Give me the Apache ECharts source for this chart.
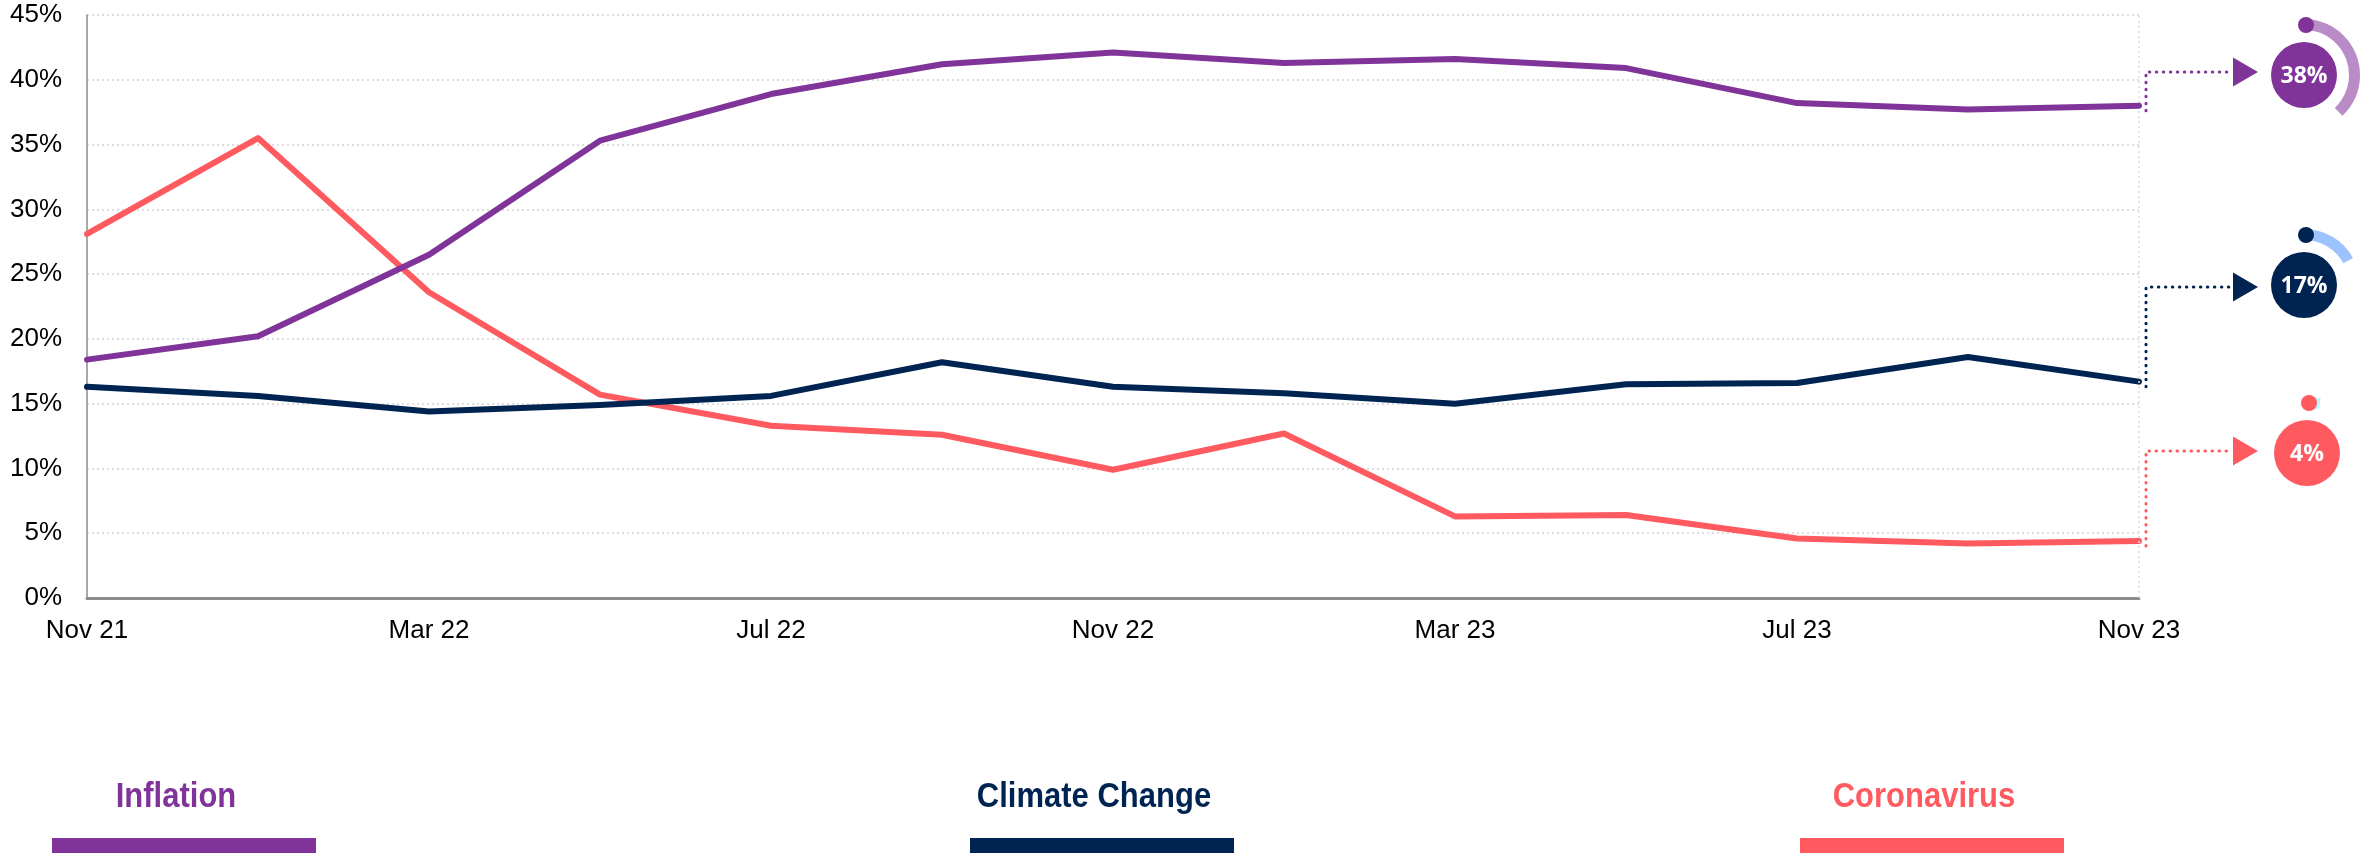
<!DOCTYPE html>
<html>
<head>
<meta charset="utf-8">
<style>
html,body{margin:0;padding:0;background:#fff;}
#chart{width:2366px;height:859px;}
</style>
<script src="https://cdn.jsdelivr.net/npm/echarts@6/dist/echarts.min.js"></script>
</head>
<body>
<div id="chart"></div>
<script>
// ---- data ----
const categories = ['Nov 21','Jan 22','Mar 22','May 22','Jul 22','Sep 22','Nov 22','Jan 23','Mar 23','May 23','Jul 23','Sep 23','Nov 23'];
const inflation = [18.4,20.2,26.5,35.3,38.9,41.2,42.1,41.3,41.6,40.9,38.2,37.7,38.0];
const climateChange = [16.3,15.6,14.4,14.9,15.6,18.2,16.3,15.8,15.0,16.5,16.6,18.6,16.7];
const coronavirus = [28.1,35.5,23.6,15.7,13.3,12.6,9.9,12.7,6.3,6.4,4.6,4.2,4.4];
const seriesNames = ['Inflation','Climate Change','Coronavirus'];
const yMin = 0, yMax = 45, yInterval = 5;

// ---- styles ----
const colors = ['#803399','#002452','#FF5A5F'];
const ringColors = ['#BA8CC7','#9DC3FF','#B3F7FF'];
const badgeCenters = [[2304,75],[2304,285],[2307,453]];
const arrowY = [72,287,451];
const legendCenters = [184,1102,1932];
const FONT = "'Liberation Sans', Arial, sans-serif";

const chart = echarts.init(document.getElementById('chart'), null, {renderer:'canvas'});
const allData = [inflation, climateChange, coronavirus];

const lineSeries = allData.map((d,i)=>({
  name: seriesNames[i], type:'line', data:d, symbol:'none', smooth:false,
  lineStyle:{color:colors[i], width:6, cap:'round', join:'round'},
  itemStyle:{color:colors[i]}, z: 5 - i,
  silent:true,
  markLine: i===0 ? {silent:true, symbol:'none', label:{show:false},
     lineStyle:{color:'#dcdcdc', type:[2,3], width:1.5},
     data:[{xAxis: categories[categories.length-1]}]} : undefined
}));

const ringSeries = allData.map((d,i)=>{
  const v = Math.round(d[d.length-1]);
  return {
    type:'pie', silent:true, center:badgeCenters[i], radius:[45,56],
    startAngle:90, clockwise:true, label:{show:false}, labelLine:{show:false},
    emphasis:{disabled:true}, animation:false,
    data:[{value:v, itemStyle:{color:ringColors[i]}},{value:100-v, itemStyle:{color:'rgba(0,0,0,0)'}}]
  };
});

chart.setOption({
  animation:false,
  backgroundColor:'#fff',
  grid:{left:87, right:227, top:15, bottom:261, containLabel:false},
  xAxis:{
    type:'category', data:categories, boundaryGap:false,
    axisLine:{lineStyle:{color:'#8c8c8c', width:3}},
    axisTick:{show:false},
    axisLabel:{interval:1, color:'#000', fontSize:26, fontFamily:FONT, margin:20},
    splitLine:{show:false}
  },
  yAxis:{
    type:'value', min:yMin, max:yMax, interval:yInterval,
    axisLine:{show:true, lineStyle:{color:'#8c8c8c', width:1.5}},
    axisTick:{show:false},
    axisLabel:{formatter:'{value}%', color:'#000', fontSize:26, fontFamily:FONT, margin:25},
    splitLine:{lineStyle:{color:'#d4d4d4', type:[2,3], width:1.5}}
  },
  series: lineSeries.concat(ringSeries)
});

// ---- annotations built from the chart's own scales ----
const graphics = [];
allData.forEach((d,i)=>{
  const last = d.length-1;
  const p = chart.convertToPixel({gridIndex:0}, [last, d[last]]);
  const vx = p[0] + 7;
  const ay = arrowY[i];
  const dot = {stroke:colors[i], lineWidth:3, lineDash:[0.5,6.5], lineCap:'round', fill:null};
  graphics.push({type:'polyline', z:50, silent:true,
    shape:{points:[[vx, p[1]+5],[vx, ay],[2231, ay]]}, style:dot});
  graphics.push({type:'polygon', z:50, silent:true,
    shape:{points:[[2233, ay-14.5],[2258, ay],[2233, ay+14.5]]}, style:{fill:colors[i]}});
  const c = badgeCenters[i];
  graphics.push({type:'circle', z:60, silent:true, shape:{cx:c[0], cy:c[1], r:33}, style:{fill:colors[i]}});
  graphics.push({type:'circle', z:60, silent:true, shape:{cx:c[0]+2, cy:c[1]-50, r:8}, style:{fill:colors[i]}});
  graphics.push({type:'text', z:61, silent:true, x:c[0], y:c[1]+1,
    style:{text:Math.round(d[last])+'%', fill:'#fff', font:"bold 23px 'Open Sans', sans-serif",
      align:'center', verticalAlign:'middle'}});
  // legend: name above a thick bar
  const lc = legendCenters[i];
  graphics.push({type:'text', z:50, silent:true, x:lc-8, y:797, scaleY:1.12,
    style:{text:seriesNames[i], fill:colors[i], font:"bold 31px "+FONT, align:'center', verticalAlign:'middle'}});
  graphics.push({type:'rect', z:50, silent:true, shape:{x:lc-132, y:838, width:264, height:15}, style:{fill:colors[i]}});
});
chart.setOption({graphic:graphics});
</script>
</body>
</html>
